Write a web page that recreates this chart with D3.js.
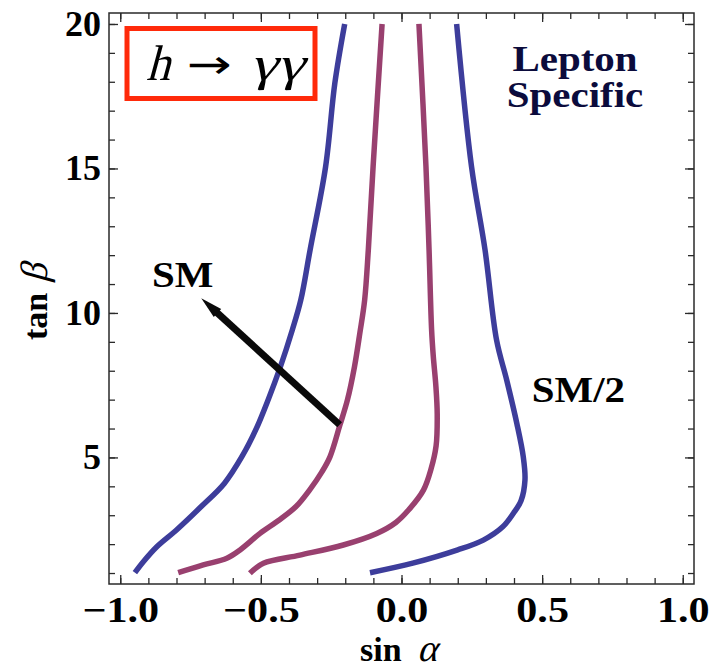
<!DOCTYPE html>
<html>
<head>
<meta charset="utf-8">
<script src="https://cdn.jsdelivr.net/npm/d3@7"></script>
<style>
  body { margin: 0; background: #fff; }
</style>
</head>
<body>
<svg id="chart" width="709" height="669" font-family="Liberation Serif, Times New Roman, serif"></svg>
<script>
// contour curves: [sin alpha, tan beta]
const blueLeft = [
    [-0.948, 1.01], [-0.918, 1.39], [-0.870, 1.91], [-0.800, 2.49], [-0.712, 3.30],
    [-0.630, 4.10], [-0.566, 5.05], [-0.518, 5.96], [-0.474, 7.00], [-0.432, 8.10],
    [-0.388, 9.42], [-0.358, 10.45], [-0.325, 12.18], [-0.270, 15.05], [-0.237, 17.95],
    [-0.202, 20.00]
];
const purpleLeft = [
    [-0.794, 1.01], [-0.705, 1.28], [-0.621, 1.51], [-0.574, 1.80], [-0.503, 2.37],
    [-0.440, 2.80], [-0.375, 3.30], [-0.327, 3.87], [-0.283, 4.50], [-0.254, 5.03],
    [-0.219, 6.12], [-0.192, 7.00], [-0.167, 8.15], [-0.148, 9.31], [-0.131, 10.45],
    [-0.118, 12.18], [-0.101, 15.06], [-0.069, 20.00]
];
const purpleRight = [
    [-0.539, 0.99], [-0.491, 1.34], [-0.361, 1.62], [-0.207, 1.97], [-0.088, 2.37],
    [-0.020, 2.75], [0.025, 3.18], [0.078, 3.87], [0.105, 4.60], [0.123, 5.40],
    [0.127, 6.50], [0.122, 7.50], [0.113, 8.50], [0.107, 9.42], [0.098, 12.18],
    [0.087, 15.06], [0.062, 20.00]
];
const blueRight = [
    [-0.112, 1.01], [0.040, 1.34], [0.200, 1.80], [0.291, 2.14], [0.360, 2.60],
    [0.398, 3.07], [0.425, 3.50], [0.439, 4.22], [0.433, 5.02], [0.410, 6.18],
    [0.374, 7.68], [0.338, 9.06], [0.297, 12.18], [0.249, 15.06], [0.196, 20.00]
];

const xMajor = [-1.0, -0.5, 0.0, 0.5, 1.0];
const yMajor = [5, 10, 15, 20];
const xMinor = d3.range(-10, 11).map(d => d / 10);
const yMinor = d3.range(1, 21);

// arrow: from the SM curve towards the label
const smArrow = [[-0.22, 6.13], [-0.712, 10.51]];
const labels = [
    {text: "SM", x: -0.887, y: 10.9, anchor: "start", fill: "#000"},
    {text: "SM/2", x: 0.463, y: 6.93, anchor: "start", fill: "#000"},
    {text: "Lepton", x: 0.617, y: 18.38, anchor: "middle", fill: "#0b0b3c"},
    {text: "Specific", x: 0.617, y: 17.14, anchor: "middle", fill: "#0b0b3c"}
];

const blue = "#3d3d9b", purple = "#99406f";

const svg = d3.select("#chart");
const mLeft = 109, mRight = 694, mTop = 13, mBottom = 584;

const x = d3.scaleLinear().domain([-1.04, 1.04]).range([mLeft, mRight]);
const y = d3.scaleLinear().domain([0.62, 20.38]).range([mBottom, mTop]);

// widen glyphs a bit, the original font runs wider than Liberation
function stretch(sel, k) {
    sel.each(function () {
        const w = this.getComputedTextLength();
        d3.select(this).attr("textLength", w * k).attr("lengthAdjust", "spacingAndGlyphs");
    });
}

// frame + ticks on all sides (inward)
function addAxis(axis, tx, ty, showText) {
    const g = svg.append("g").attr("transform", `translate(${tx},${ty})`).call(axis);
    g.select(".domain").remove();
    g.selectAll("line").attr("stroke", "#2a2a2a").attr("stroke-width", 1.3);
    if (!showText) g.selectAll("text").remove();
    return g;
}

addAxis(d3.axisBottom(x).tickValues(xMinor).tickSize(-6).tickFormat(""), 0, mBottom, false);
addAxis(d3.axisTop(x).tickValues(xMinor).tickSize(-6).tickFormat(""), 0, mTop, false);
addAxis(d3.axisLeft(y).tickValues(yMinor).tickSize(-6).tickFormat(""), mLeft, 0, false);
addAxis(d3.axisRight(y).tickValues(yMinor).tickSize(-6).tickFormat(""), mRight, 0, false);

const xAx = addAxis(d3.axisBottom(x).tickValues(xMajor).tickSize(-9).tickPadding(12)
    .tickFormat(d3.format(".1f")), 0, mBottom, true);
addAxis(d3.axisTop(x).tickValues(xMajor).tickSize(-9).tickFormat(""), 0, mTop, false);
const yAx = addAxis(d3.axisLeft(y).tickValues(yMajor).tickSize(-9).tickPadding(8)
    .tickFormat(d3.format("d")), mLeft, 0, true);
addAxis(d3.axisRight(y).tickValues(yMajor).tickSize(-9).tickFormat(""), mRight, 0, false);

[xAx, yAx].forEach(g => g.selectAll("text")
    .attr("font-family", "Liberation Serif, serif")
    .attr("font-size", 36).attr("font-weight", "bold").attr("fill", "#000"));
stretch(xAx.selectAll("text"), 1.17);

svg.append("rect")
    .attr("x", mLeft).attr("y", mTop)
    .attr("width", mRight - mLeft).attr("height", mBottom - mTop)
    .attr("fill", "none").attr("stroke", "#2a2a2a").attr("stroke-width", 1.5);

// curves
const line = d3.line()
    .x(d => x(d[0])).y(d => y(d[1]))
    .curve(d3.curveCatmullRom.alpha(0.5));

[[blueLeft, blue], [purpleLeft, purple], [purpleRight, purple], [blueRight, blue]]
    .forEach(([data, col]) => {
        svg.append("path")
            .datum(data)
            .attr("d", line)
            .attr("fill", "none")
            .attr("stroke", col)
            .attr("stroke-width", 5.5)
            .attr("stroke-linecap", "butt");
    });

// arrow
const p0 = [x(smArrow[0][0]), y(smArrow[0][1])];
const p1 = [x(smArrow[1][0]), y(smArrow[1][1])];
const dx = p1[0] - p0[0], dy = p1[1] - p0[1];
const len = Math.sqrt(dx * dx + dy * dy);
const ux = dx / len, uy = dy / len;
const headLen = 22, headW = 5.5;
const base = [p1[0] - ux * headLen, p1[1] - uy * headLen];
svg.append("line")
    .attr("x1", p0[0]).attr("y1", p0[1])
    .attr("x2", base[0] + ux * 4).attr("y2", base[1] + uy * 4)
    .attr("stroke", "#0a0a0a").attr("stroke-width", 7);
svg.append("path")
    .attr("d", "M" + p1[0] + "," + p1[1]
        + "L" + (base[0] - uy * headW) + "," + (base[1] + ux * headW)
        + "L" + (base[0] + uy * headW) + "," + (base[1] - ux * headW) + "Z")
    .attr("fill", "#0a0a0a");

// annotation labels
const ann = svg.selectAll("text.ann")
    .data(labels)
    .enter().append("text")
    .attr("class", "ann")
    .attr("x", d => x(d.x)).attr("y", d => y(d.y))
    .attr("text-anchor", d => d.anchor)
    .attr("font-size", 35).attr("font-weight", "bold")
    .attr("fill", d => d.fill)
    .text(d => d.text);
stretch(ann, 1.17);

// slanted serif glyph (math italic look)
function slanted(parent, tx, ty, txt, size) {
    return parent.append("text")
        .attr("transform", `translate(${tx},${ty}) skewX(-15)`)
        .attr("font-family", "Liberation Serif, serif")
        .attr("font-size", size)
        .text(txt);
}

// red box with process
svg.append("rect")
    .attr("x", 127).attr("y", 28.5).attr("width", 188).attr("height", 70)
    .attr("fill", "none").attr("stroke", "#ff2a0a").attr("stroke-width", 5);
slanted(svg, 146, 80, "h", 50)
    .attr("textLength", 24).attr("lengthAdjust", "spacingAndGlyphs");
svg.append("text")
    .attr("x", 187).attr("y", 78)
    .attr("font-family", "DejaVu Sans, sans-serif").attr("font-size", 40)
    .attr("textLength", 45).attr("lengthAdjust", "spacingAndGlyphs")
    .text("\u2192");
slanted(svg, 250, 80, "\u03B3\u03B3", 48)
    .attr("textLength", 54).attr("lengthAdjust", "spacingAndGlyphs");

// axis titles
const yt = svg.append("g").attr("transform", "translate(47,340) rotate(-90)");
yt.append("text").attr("x", 0).attr("y", 0)
    .attr("font-size", 34).attr("font-weight", "bold").text("tan");
slanted(yt, 57, 0, "\u03B2", 38);

svg.append("text")
    .attr("x", 360).attr("y", 661)
    .attr("font-size", 34).attr("font-weight", "bold").text("sin");
slanted(svg, 417, 661, "\u03B1", 38);
</script>
</body>
</html>
